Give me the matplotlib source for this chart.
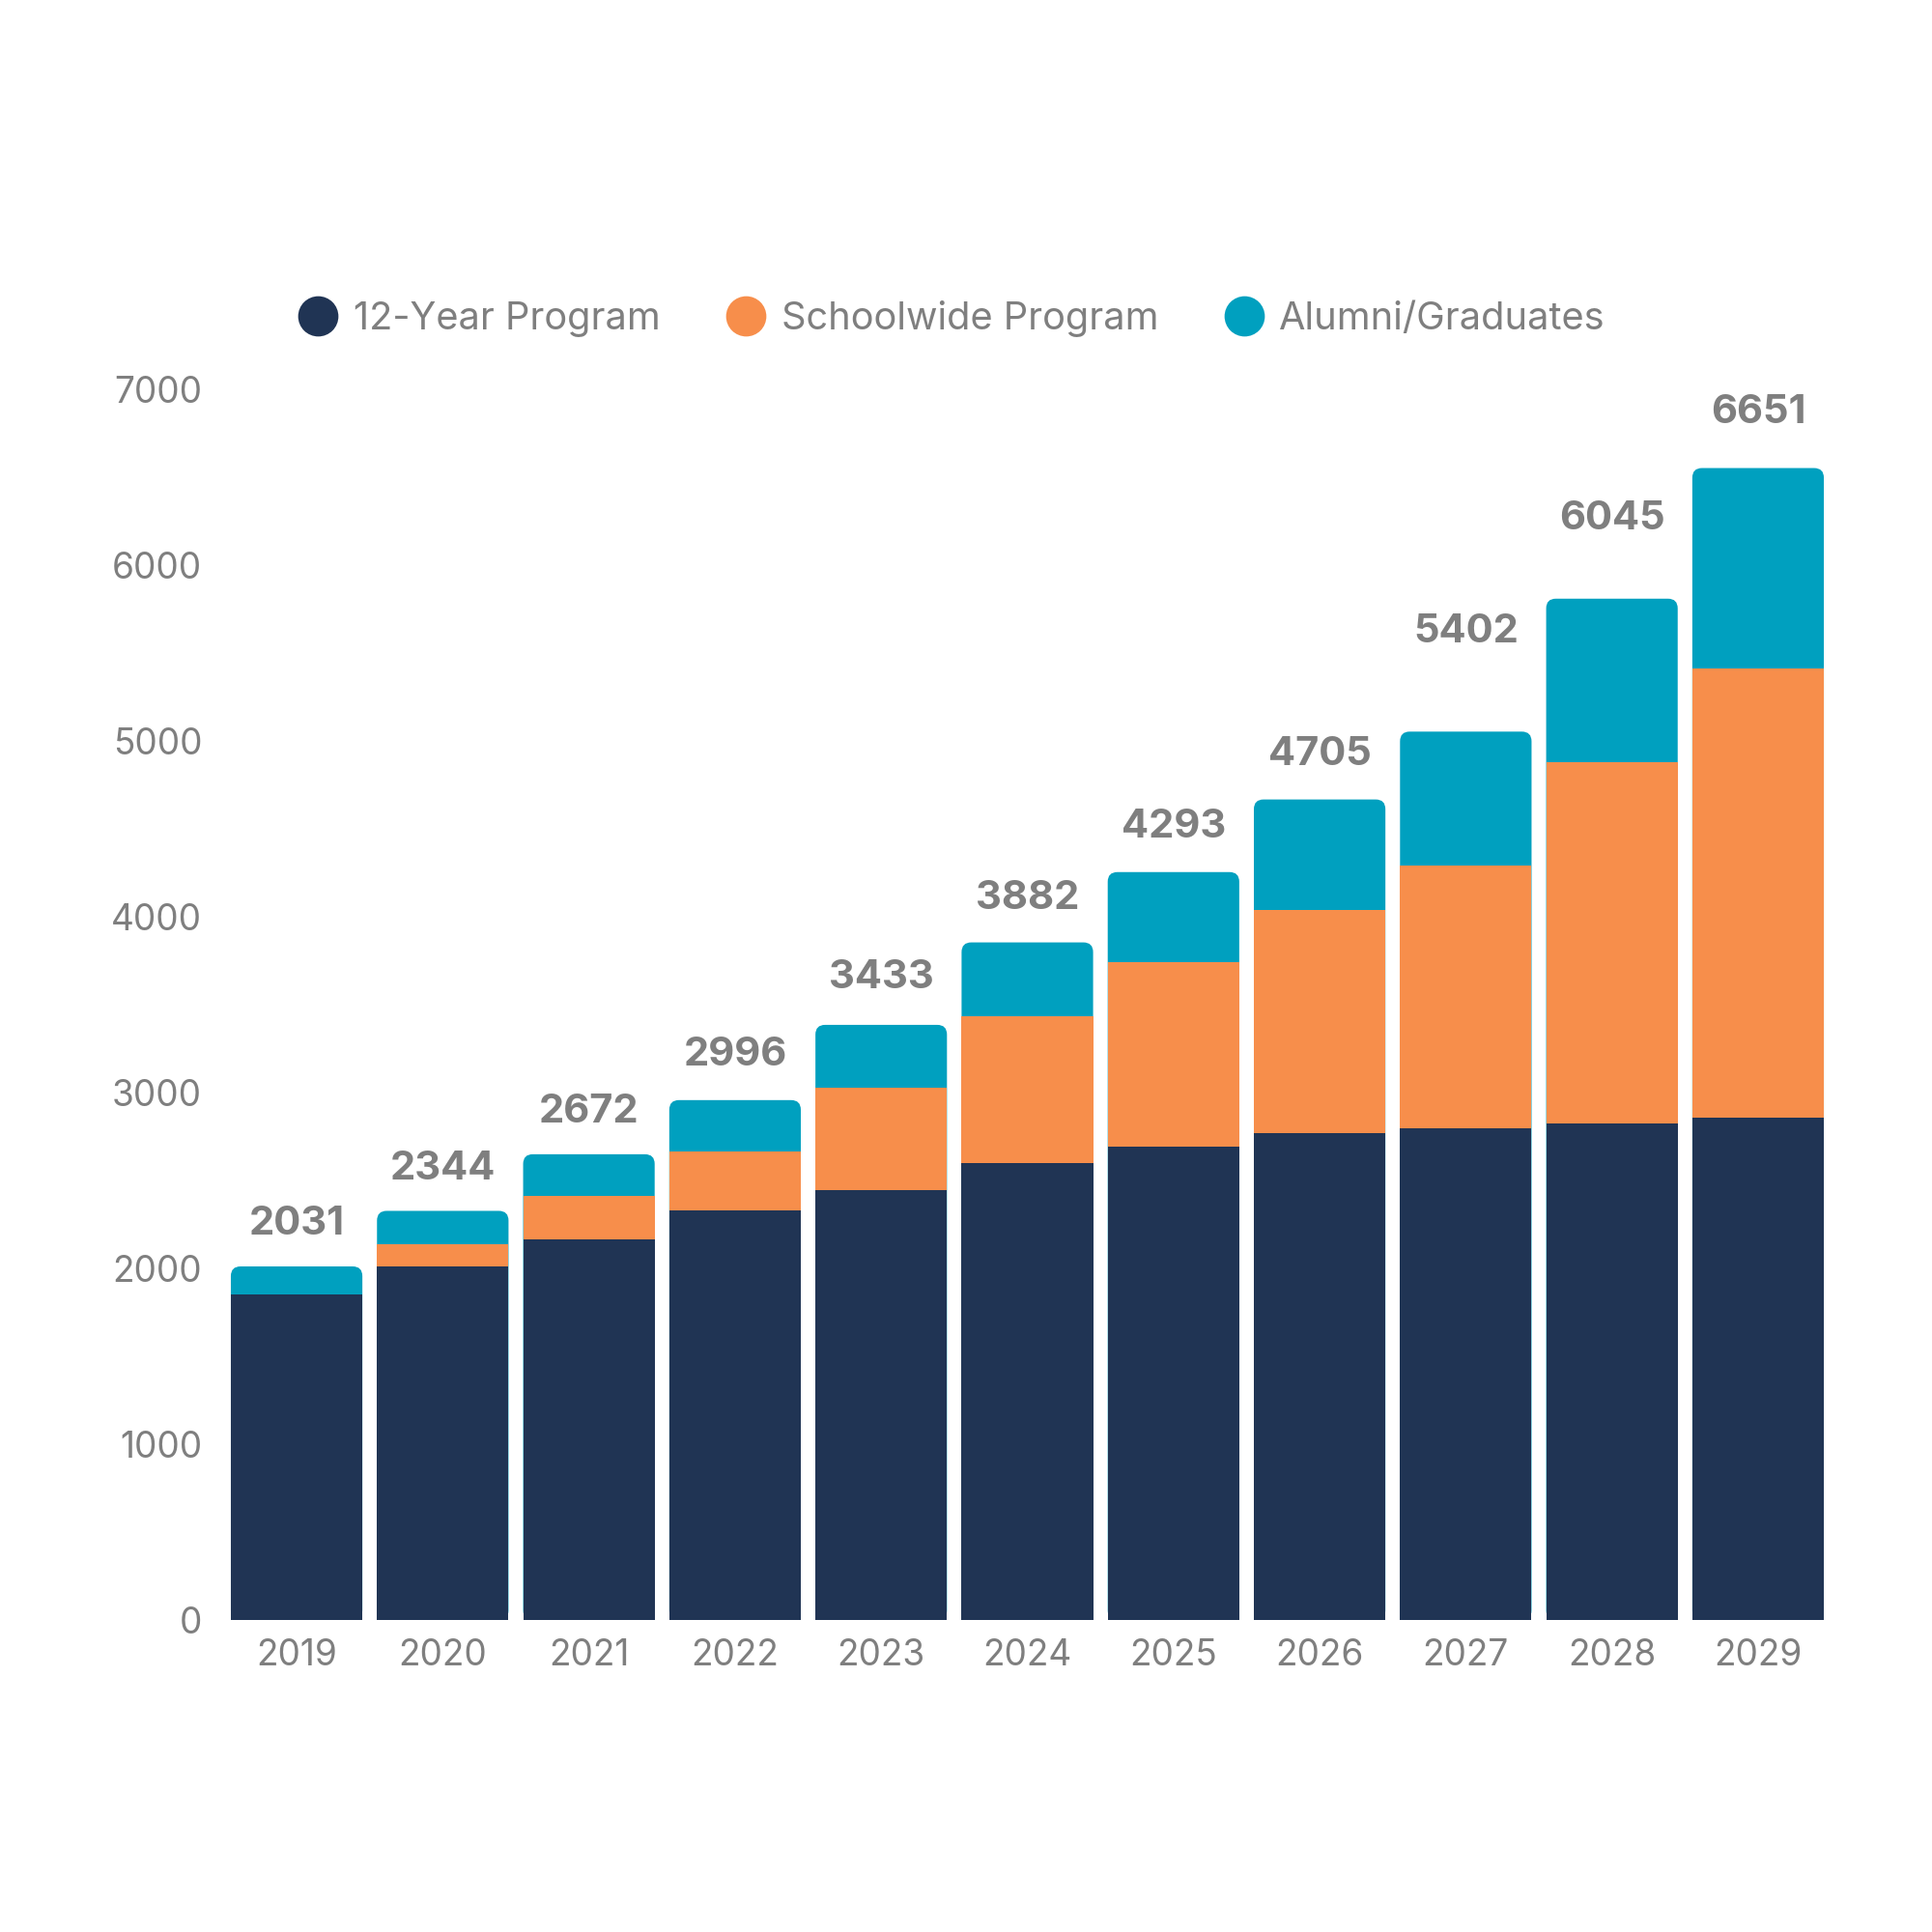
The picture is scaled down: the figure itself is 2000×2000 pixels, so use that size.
import numpy as np
import matplotlib
matplotlib.use("Agg")
import matplotlib.pyplot as plt
from matplotlib.lines import Line2D
from matplotlib.patches import FancyBboxPatch

plt.rcParams["font.family"] = ["Inter", "DejaVu Sans"]

# ─── data ─────────────────────────────────────────────────────────────────────
years = ["2019", "2020", "2021", "2022", "2023", "2024",
         "2025", "2026", "2027", "2028", "2029"]
program_12yr = [1850, 2011, 2165, 2327, 2446, 2600, 2691, 2768, 2796, 2824, 2859]
schoolwide   = [0, 126, 246, 336, 581, 834, 1051, 1268, 1493, 2053, 2551]
alumni       = [161, 190, 238, 294, 358, 420, 512, 631, 764, 932, 1142]
total_labels = [2031, 2344, 2672, 2996, 3433, 3882, 4293, 4705, 5402, 6045, 6651]

series_names = ["12-Year Program", "Schoolwide Program", "Alumni/Graduates"]
COLORS = ["#203454", "#F78E4B", "#00A0BF"]
GREY = "#7f7f7f"

# ─── figure ───────────────────────────────────────────────────────────────────
fig = plt.figure(figsize=(10, 10), dpi=200)
ax = fig.add_axes([0.1157, 0.1615, 0.9478 - 0.1157, 0.7985 - 0.1615])

x = np.arange(len(years))
w = 0.9
navy = np.array(program_12yr)
orng = np.array(schoolwide)
teal = np.array(alumni)

ax.bar(x, navy, w, color=COLORS[0], zorder=2, linewidth=0)
ax.bar(x, orng, w, bottom=navy, color=COLORS[1], zorder=2, linewidth=0)
top_bars = ax.bar(x, teal, w, bottom=navy + orng, color=COLORS[2],
                  zorder=1, linewidth=0)

ax.set_xlim(-0.5, len(years) - 0.5)
ax.set_ylim(0, 7000)

# rounded top corners: replace the teal rectangles with rounded boxes that
# start at the base, so navy/orange cover the lower corners
px_x = 1.0 / 151.3          # x data units per pixel
px_y = 7000 / 1274.0        # y data units per pixel
for rect in top_bars:
    rect.set_visible(False)
    x0 = rect.get_x()
    top = rect.get_y() + rect.get_height()
    box = FancyBboxPatch((x0, 0), rect.get_width(), top,
                         boxstyle=f"round,pad=0,rounding_size={10 * px_x}",
                         mutation_aspect=px_y / px_x,
                         facecolor=COLORS[2], edgecolor="none", zorder=1)
    ax.add_patch(box)

# totals above bars
for xi, lab in zip(x, total_labels):
    ax.annotate(f"{lab}", (xi, lab), xytext=(0, 14.4), textcoords="offset points",
                ha="center", va="center", fontsize=15, fontweight="bold",
                color=GREY, clip_on=False)

ax.set_xticks(x)
ax.set_xticklabels(years)
ax.set_yticks(np.arange(0, 7001, 1000))
ax.tick_params(axis="both", length=0, labelsize=13.3, colors=GREY)
ax.tick_params(axis="y", pad=8)
ax.tick_params(axis="x", pad=7)
for s in ax.spines.values():
    s.set_visible(False)

handles = [Line2D([], [], marker="o", ls="none", markersize=14,
                  markerfacecolor=c, markeredgecolor=c) for c in COLORS]
leg = fig.legend(handles, series_names, loc="center", ncol=3,
                 bbox_to_anchor=(0.493, 0.835), frameon=False,
                 fontsize=14.3, handlelength=0.95, handletextpad=0.45,
                 columnspacing=1.75)
for t in leg.get_texts():
    t.set_color(GREY)

fig.savefig("out.png", dpi=200, facecolor="white")
